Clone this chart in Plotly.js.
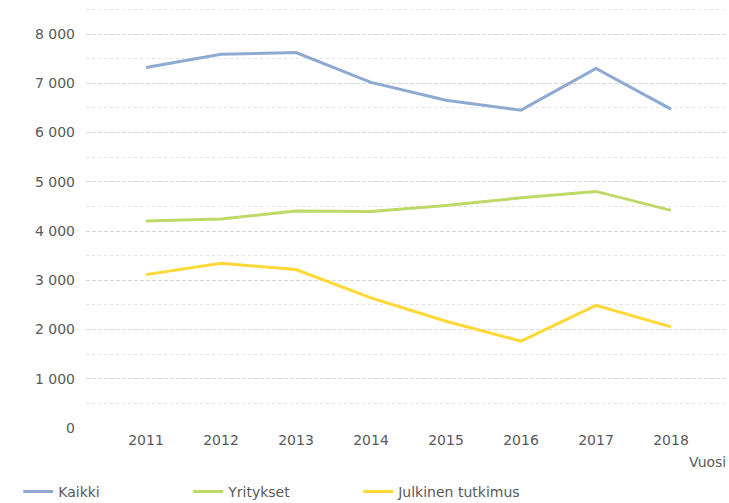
<!DOCTYPE html>
<html>
<head>
<meta charset="utf-8">
<script src="https://cdn.plot.ly/plotly-3.0.1.min.js"></script>
<style>html,body{margin:0;padding:0;background:#fff;}#chart{width:729px;height:503px;}</style>
</head>
<body>
<div id="chart"></div>
<script>
const years = ['2011','2012','2013','2014','2015','2016','2017','2018'];
const kaikki = [7320, 7590, 7625, 7020, 6655, 6455, 7300, 6475];
const yritykset = [4205, 4245, 4405, 4395, 4520, 4675, 4805, 4420];
const julkinen = [3115, 3345, 3218, 2642, 2168, 1765, 2492, 2053];
const seriesNames = ['Kaikki', 'Yritykset', 'Julkinen tutkimus'];
const colors = ['#8eaad3', '#bfd968', '#ffd835'];

const font = 'DejaVu Sans, Verdana, sans-serif';
const traces = [kaikki, yritykset, julkinen].map((v, i) => ({
  type: 'scatter', mode: 'lines', x: years, y: v, name: seriesNames[i],
  line: {color: colors[i], width: 3}
}));

const layout = {
  width: 729, height: 503,
  margin: {l: 86, r: 1, t: 7, b: 75, autoexpand: false},
  paper_bgcolor: '#fff', plot_bgcolor: '#fff',
  separators: ', ',
  font: {family: font, size: 14, color: '#595959'},
  showlegend: true,
  legend: {orientation: 'h', xref: 'container', yref: 'container', x: 0.025, xanchor: 'left',
    y: 0.022, yanchor: 'middle',
    entrywidth: 125, entrywidthmode: 'pixels', font: {family: font, size: 14, color: '#595959'},
    traceorder: 'normal'},
  xaxis: {type: 'category', range: [-0.8, 7.76], showgrid: false, zeroline: false, showline: false,
    ticks: '', tickfont: {family: font, size: 14, color: '#595959'}, ticklabelstandoff: 2},
  yaxis: {range: [0, 8550], dtick: 1000, tickformat: ',d', showgrid: true, gridcolor: '#d9d9d9',
    griddash: '4px,2px', zeroline: false, showline: false, ticks: '', ticklabelstandoff: 10,
    tickfont: {family: font, size: 14, color: '#595959'},
    minor: {dtick: 500, showgrid: true, gridcolor: '#e3e3e3', griddash: 'dot'}},
  annotations: [{text: 'Vuosi', xref: 'paper', yref: 'paper', x: 1.0, xanchor: 'right',
    y: -0.08, yanchor: 'middle', showarrow: false, font: {family: font, size: 14, color: '#595959'}}]
};
Plotly.newPlot('chart', traces, layout, {displayModeBar: false, staticPlot: true});
</script>
</body>
</html>
